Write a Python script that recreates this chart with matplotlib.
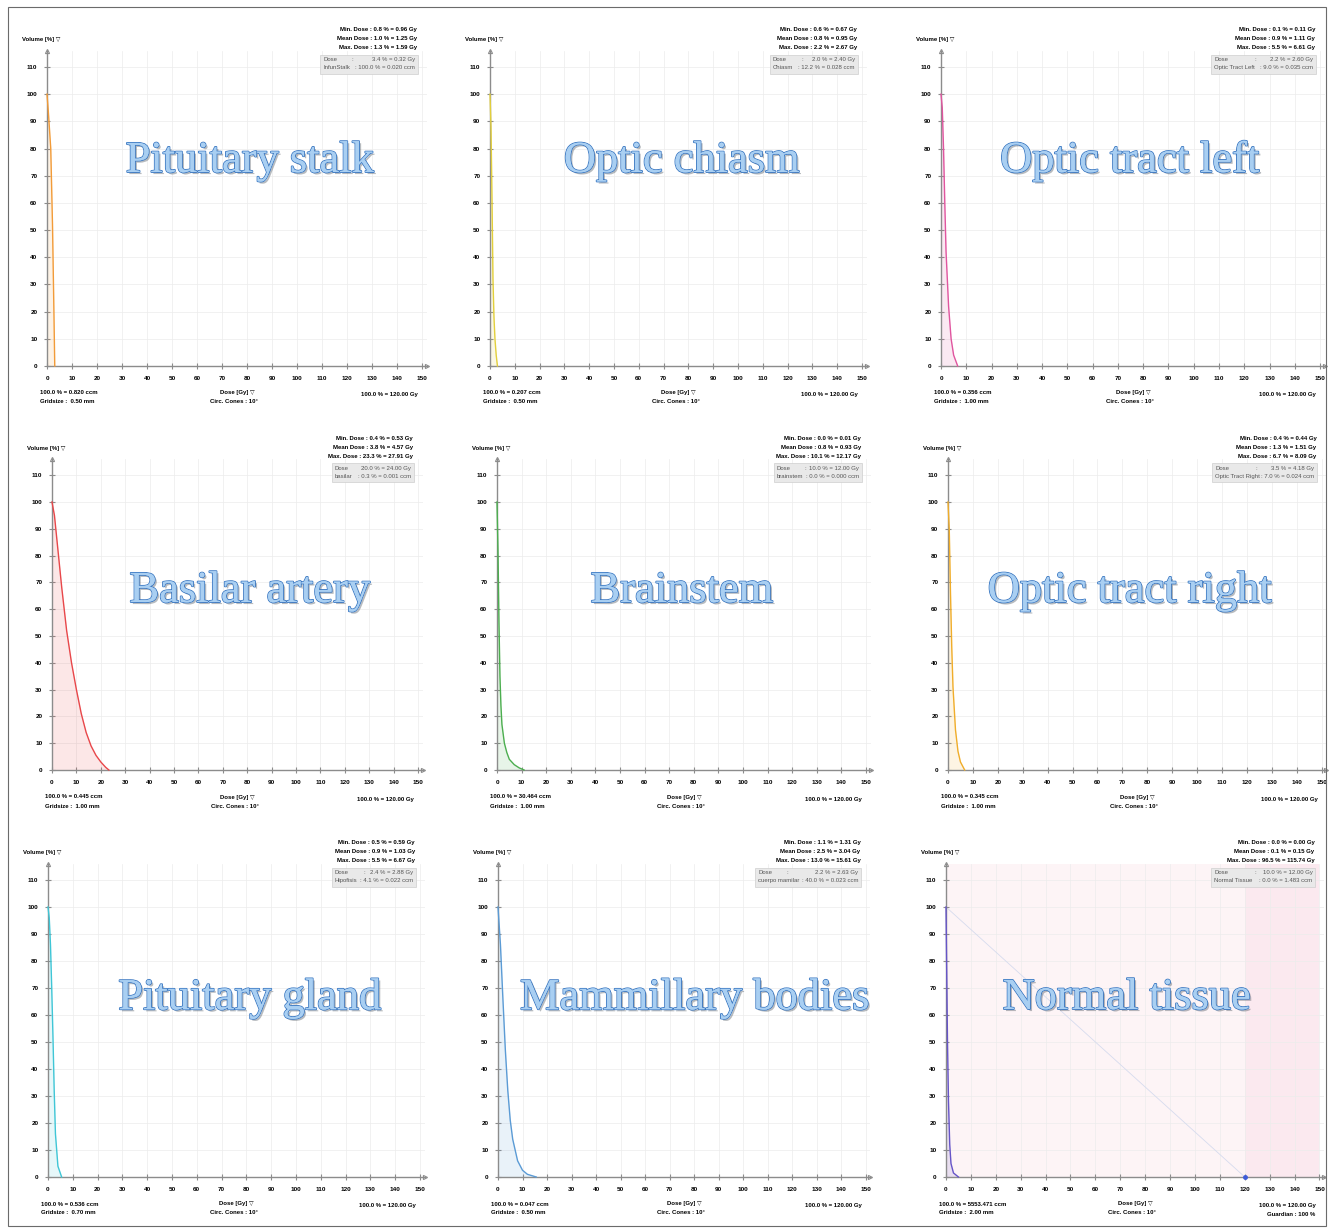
import matplotlib
matplotlib.use("Agg")
import matplotlib.pyplot as plt
import matplotlib.patheffects as pe
from matplotlib.patches import Rectangle
import numpy as np

FIG_W, FIG_H = 1334, 1231
DPI = 100

# dose-volume histogram curves (dose in Gy, volume in %)
STALK_DOSE = [0, 0.5, 1.0, 1.5, 2.2, 2.8, 3.1]
STALK_VOL = [100, 94, 87, 80, 52, 18, 0]

CHIASM_DOSE = [0, 0.4, 0.8, 1.2, 1.6, 2.0, 2.5, 3.0]
CHIASM_VOL = [100, 88, 62, 32, 18, 10, 4, 0]

TRACT_L_DOSE = [0, 0.5, 1.0, 1.5, 2.0, 3.0, 4.0, 5.0, 6.6]
TRACT_L_VOL = [100, 95, 80, 60, 42, 22, 10, 4, 0]

BASILAR_DOSE = [0, 1, 2, 3, 4, 5, 6, 8, 10, 12, 14, 16, 18, 20, 22, 23.3]
BASILAR_VOL = [100, 95, 86, 77, 68, 60, 52, 40, 30, 21, 14, 9, 5.5, 3, 1, 0]

BRAINSTEM_DOSE = [0, 0.4, 0.8, 1.2, 1.6, 2.0, 3.0, 4.0, 5.0, 7.0, 9.0, 11.0]
BRAINSTEM_VOL = [100, 82, 55, 35, 24, 17, 10, 6.5, 4, 2, 0.8, 0]

TRACT_R_DOSE = [0, 0.5, 1.0, 1.5, 2.0, 3.0, 4.0, 5.0, 6.7]
TRACT_R_VOL = [100, 90, 66, 46, 31, 15, 7, 3, 0]

GLAND_DOSE = [0, 0.5, 1.0, 1.5, 2.0, 2.5, 3.0, 4.0, 5.5]
GLAND_VOL = [100, 96, 86, 70, 52, 32, 16, 4, 0]

MAMMILLARY_DOSE = [0, 1, 2, 3, 4, 5, 6, 8, 10, 12, 15.6]
MAMMILLARY_VOL = [100, 86, 66, 47, 32, 21, 14, 6, 2.5, 1, 0]

NORMAL_DOSE = [0, 0.3, 0.6, 1.0, 1.5, 2.0, 3.0, 5.0]
NORMAL_VOL = [100, 75, 50, 28, 12, 5, 1.5, 0]
NORMAL_PRESCRIPTION = 120

STRUCTURES = [
    "Pituitary stalk", "Optic chiasm", "Optic tract left",
    "Basilar artery", "Brainstem", "Optic tract right",
    "Pituitary gland", "Mammillary bodies", "Normal tissue",
]

CURVES = [
    (STALK_DOSE, STALK_VOL), (CHIASM_DOSE, CHIASM_VOL), (TRACT_L_DOSE, TRACT_L_VOL),
    (BASILAR_DOSE, BASILAR_VOL), (BRAINSTEM_DOSE, BRAINSTEM_VOL), (TRACT_R_DOSE, TRACT_R_VOL),
    (GLAND_DOSE, GLAND_VOL), (MAMMILLARY_DOSE, MAMMILLARY_VOL), (NORMAL_DOSE, NORMAL_VOL),
]

MIN_DOSE = [
    "0.8 % = 0.96 Gy", "0.6 % = 0.67 Gy", "0.1 % = 0.11 Gy",
    "0.4 % = 0.53 Gy", "0.0 % = 0.01 Gy", "0.4 % = 0.44 Gy",
    "0.5 % = 0.59 Gy", "1.1 % = 1.31 Gy", "0.0 % = 0.00 Gy",
]
MEAN_DOSE = [
    "1.0 % = 1.25 Gy", "0.8 % = 0.95 Gy", "0.9 % = 1.11 Gy",
    "3.8 % = 4.57 Gy", "0.8 % = 0.93 Gy", "1.3 % = 1.51 Gy",
    "0.9 % = 1.03 Gy", "2.5 % = 3.04 Gy", "0.1 % = 0.15 Gy",
]
MAX_DOSE = [
    "1.3 % = 1.59 Gy", "2.2 % = 2.67 Gy", "5.5 % = 6.61 Gy",
    "23.3 % = 27.91 Gy", "10.1 % = 12.17 Gy", "6.7 % = 8.09 Gy",
    "5.5 % = 6.67 Gy", "13.0 % = 15.61 Gy", "96.5 % = 115.74 Gy",
]
CURSOR_DOSE = [
    "3.4 % = 0.32 Gy", "2.0 % = 2.40 Gy", "2.2 % = 2.60 Gy",
    "20.0 % = 24.00 Gy", "10.0 % = 12.00 Gy", "3.5 % = 4.18 Gy",
    "2.4 % = 2.88 Gy", "2.2 % = 2.63 Gy", "10.0 % = 12.00 Gy",
]
CURSOR_LABEL = [
    "InfunStalk", "Chiasm", "Optic Tract Left",
    "basilar", "brainstem", "Optic Tract Right",
    "Hipofisis", "cuerpo mamilar", "Normal Tissue",
]
CURSOR_VOLUME = [
    "100.0 % = 0.020 ccm", "12.2 % = 0.028 ccm", "9.0 % = 0.035 ccm",
    "0.3 % = 0.001 ccm", "0.0 % = 0.000 ccm", "7.0 % = 0.024 ccm",
    "4.1 % = 0.022 ccm", "40.0 % = 0.023 ccm", "0.0 % = 1.483 ccm",
]
TOTAL_VOLUME = [
    "100.0 % = 0.820 ccm", "100.0 % = 0.207 ccm", "100.0 % = 0.356 ccm",
    "100.0 % = 0.445 ccm", "100.0 % = 30.464 ccm", "100.0 % = 0.345 ccm",
    "100.0 % = 0.536 ccm", "100.0 % = 0.047 ccm", "100.0 % = 5553.471 ccm",
]
GRIDSIZE = [
    "0.50 mm", "0.50 mm", "1.00 mm",
    "1.00 mm", "1.00 mm", "1.00 mm",
    "0.70 mm", "0.50 mm", "2.00 mm",
]

X_TICKS = np.arange(0, 151, 10)
Y_TICKS = np.arange(0, 111, 10)

COLORS = [
    "#f29b38", "#e2cf3c", "#e0559f",
    "#e8474a", "#4cae4f", "#f0ad2a",
    "#3fc6d6", "#5b9bd5", "#6655c8",
]

# axes placement in pixels: x of dose 0, px per Gy, y of volume 0, px per %
PANEL_X = [(47, 2.50), (490, 2.48), (941, 2.527),
           (52, 2.44), (497, 2.46), (948, 2.49),
           (48, 2.48), (498, 2.45), (946, 2.49)]
ROW_Y = [(366, 2.718), (770, 2.68), (1177, 2.70)]
BOX_WIDTH = [98, 88, 105, 82, 88, 105, 84, 106, 104]
TITLE_POS = [(250, 161), (682, 161), (1130, 161),
             (250, 591), (682, 591), (1130, 591),
             (250, 998), (695, 998), (1127, 998)]

X_MAX = 152
Y_MAX = 116
SMALL = 4.3
TICK_SIZE = 4.6
AXIS_GRAY = "#8c8c8c"

plt.rcParams["font.family"] = ["Liberation Sans", "DejaVu Sans"]


def px(dx):
    return dx * 72 / DPI


def small_text(ax, xy, dxdy, text, ha, **kw):
    ax.annotate(text, xy=xy, xycoords="axes fraction",
                xytext=(px(dxdy[0]), px(dxdy[1])), textcoords="offset points",
                ha=ha, va="center", fontsize=SMALL, annotation_clip=False, **kw)


def draw_panel(fig, i):
    x0, sx = PANEL_X[i]
    y0, sy = ROW_Y[i // 3]
    w_px, h_px = X_MAX * sx, Y_MAX * sy
    ax = fig.add_axes([x0 / FIG_W, (FIG_H - y0) / FIG_H, w_px / FIG_W, h_px / FIG_H])
    ax.set_xlim(0, X_MAX)
    ax.set_ylim(0, Y_MAX)
    ax.patch.set_alpha(0)

    dose, vol = CURVES[i]
    color = COLORS[i]

    if i == 8:
        ax.axvspan(0, NORMAL_PRESCRIPTION, color="#fdf4f6", zorder=0, lw=0)
        ax.axvspan(NORMAL_PRESCRIPTION, 150, color="#fbe9ef", zorder=0, lw=0)
        ax.plot([0, NORMAL_PRESCRIPTION], [100, 0], color="#d6dbee", lw=0.6, zorder=1)
        ax.plot([NORMAL_PRESCRIPTION], [0], "o", color="#3d5bd9", ms=2.5,
                clip_on=False, zorder=5)

    for t in X_TICKS[1:]:
        ax.axvline(t, color="#ececec", lw=0.5, zorder=0.5)
    for t in Y_TICKS[1:]:
        ax.axhline(t, color="#ececec", lw=0.5, zorder=0.5)

    ax.fill_between(dose, vol, 0, color=color, alpha=0.13, lw=0, zorder=2)
    ax.plot(dose, vol, color=color, lw=1.0, clip_on=False, zorder=3)

    for s in ("top", "right"):
        ax.spines[s].set_visible(False)
    for s in ("left", "bottom"):
        ax.spines[s].set_color(AXIS_GRAY)
        ax.spines[s].set_linewidth(1.0)
    ax.plot(1, 0, ">", color=AXIS_GRAY, ms=3, mfc="white", mew=0.8,
            transform=ax.transAxes, clip_on=False)
    ax.plot(0, 1, "^", color=AXIS_GRAY, ms=3, mfc="white", mew=0.8,
            transform=ax.transAxes, clip_on=False)

    ax.set_xticks(X_TICKS)
    ax.set_yticks(Y_TICKS)
    ax.tick_params(direction="inout", length=4, width=0.8, color=AXIS_GRAY,
                   labelsize=TICK_SIZE, pad=5)
    for lab in ax.get_xticklabels() + ax.get_yticklabels():
        lab.set_fontweight("bold")

    # header: axis name and dose statistics
    small_text(ax, (0, 1), (-25, 11), "Volume [%] \u25bd", "left", fontweight="bold")
    small_text(ax, (1, 1), (-10, 21), f"Min. Dose : {MIN_DOSE[i]}", "right", fontweight="bold")
    small_text(ax, (1, 1), (-10, 12), f"Mean Dose : {MEAN_DOSE[i]}", "right", fontweight="bold")
    small_text(ax, (1, 1), (-10, 3), f"Max. Dose : {MAX_DOSE[i]}", "right", fontweight="bold")

    bw, bh = BOX_WIDTH[i], 19
    ax.add_patch(Rectangle((1 - (9 + bw) / w_px, 1 - (4 + bh) / h_px), bw / w_px, bh / h_px,
                           transform=ax.transAxes, facecolor="#e9e9e9", edgecolor="#cfcfcf",
                           lw=0.5, clip_on=False, zorder=4))
    left = -(9 + bw - 3)
    small_text(ax, (1, 1), (left, -9), "Dose", "left", color="#555555", zorder=5)
    small_text(ax, (1, 1), (left, -17), CURSOR_LABEL[i], "left", color="#555555", zorder=5)
    small_text(ax, (1, 1), (left + 28 if i not in (2, 5, 8) else left + 40, -9), ":", "left",
               color="#555555", zorder=5)
    small_text(ax, (1, 1), (-12, -9), CURSOR_DOSE[i], "right", color="#555555", zorder=5)
    small_text(ax, (1, 1), (-12, -17), ": " + CURSOR_VOLUME[i], "right", color="#555555", zorder=5)

    # footer
    small_text(ax, (0, 0), (-7, -27), TOTAL_VOLUME[i], "left", fontweight="bold")
    small_text(ax, (0, 0), (-7, -36), f"Gridsize :  {GRIDSIZE[i]}", "left", fontweight="bold")
    small_text(ax, (0.5, 0), (0, -27), "Dose [Gy] \u25bd", "center", fontweight="bold")
    small_text(ax, (0.5, 0), (-3, -36), "Circ. Cones : 10\u00b0", "center", fontweight="bold")
    small_text(ax, (1, 0), (-9, -29), "100.0 % = 120.00 Gy", "right", fontweight="bold")
    if i == 8:
        small_text(ax, (1, 0), (-9, -37), "Guardian : 100 %", "right", fontweight="bold")

    tx, ty = TITLE_POS[i]
    fig.text(tx / FIG_W, 1 - ty / FIG_H, STRUCTURES[i], ha="center", va="center",
             fontsize=32, family=["Liberation Serif", "DejaVu Serif"], color="#a9cff2",
             path_effects=[pe.SimplePatchShadow(offset=(1.5, -1.5), alpha=0.35),
                           pe.withStroke(linewidth=1.3, foreground="#3b78c2"),
                           pe.Normal()])


def main():
    fig = plt.figure(figsize=(FIG_W / DPI, FIG_H / DPI), dpi=DPI)
    fig.patch.set_facecolor("white")
    fig.add_artist(Rectangle((0.006, 0.004), 0.988, 0.99, transform=fig.transFigure,
                             fill=False, edgecolor="#6b6b6b", lw=0.8))
    for i in range(len(STRUCTURES)):
        draw_panel(fig, i)
    fig.savefig("out.png", dpi=DPI)


if __name__ == "__main__":
    main()
